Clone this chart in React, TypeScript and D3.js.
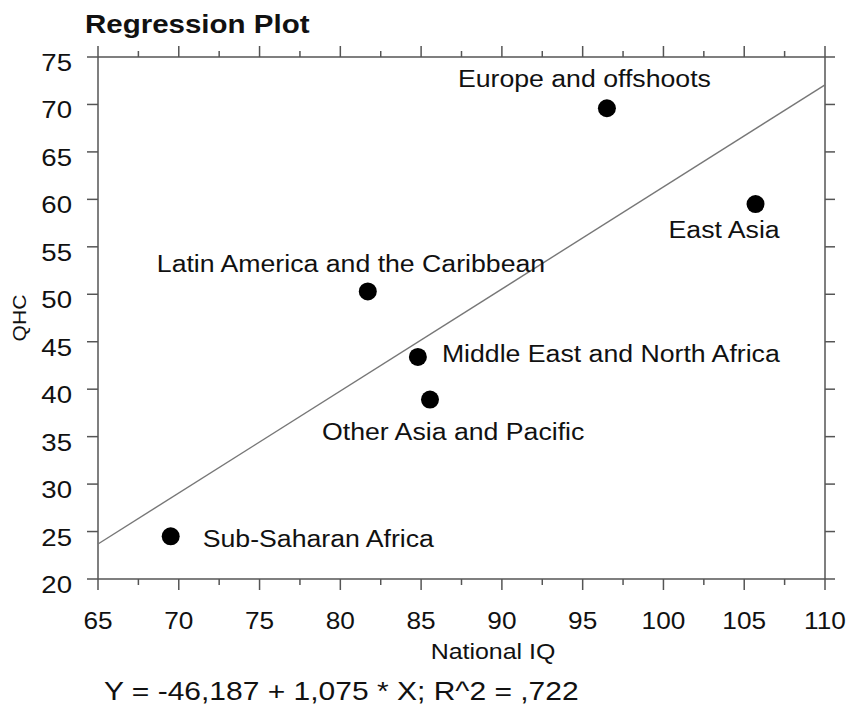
import React from "react";
import * as d3 from "d3";

const regions = [
  "Europe and offshoots",
  "East Asia",
  "Latin America and the Caribbean",
  "Middle East and North Africa",
  "Other Asia and Pacific",
  "Sub-Saharan Africa",
];
const nationalIQ = [96.5, 105.7, 81.7, 84.8, 85.55, 69.5];
const qhc = [69.6, 59.5, 50.3, 43.4, 38.9, 24.5];
const xTicks = [65, 70, 75, 80, 85, 90, 95, 100, 105, 110];
const yTicks = [20, 25, 30, 35, 40, 45, 50, 55, 60, 65, 70, 75];
const intercept = -46.187;
const slope = 1.075;
const equation = "Y = -46,187 + 1,075 * X; R^2 = ,722";

// label placement (layout, px offsets from point)
const labelOffsets: [number, number][] = [
  [-149, -21],
  [-87, 34],
  [-211, -19],
  [24, 5],
  [-108, 40],
  [32, 11],
];

const W = 853;
const H = 705;
const L = 98, R = 825, T = 57, B = 579;
const FONT = "'Liberation Sans', Arial, Helvetica, sans-serif";
const SX = 1.16;
const AX = "#555";

export default function App() {
  const x = d3.scaleLinear().domain([65, 110]).range([L, R]);
  const y = d3.scaleLinear().domain([20, 75]).range([B, T]);
  const minorX = d3.range(67.5, 110, 5);
  const lineGen = d3
    .line<number>()
    .x((d) => x(d))
    .y((d) => y(intercept + slope * d));

  const txt = (
    s: string,
    tx: number,
    ty: number,
    size: number,
    anchor: "start" | "middle" | "end" = "start",
    sx: number = SX
  ) => (
    <text
      key={s + tx + ty}
      transform={`translate(${tx},${ty}) scale(${sx},1)`}
      fontSize={size}
      fontFamily={FONT}
      textAnchor={anchor}
      fill="#111"
    >
      {s}
    </text>
  );

  return (
    <svg
      width={W}
      height={H}
      style={{ position: "absolute", left: 0, top: 0, background: "#fff" }}
    >
      <rect width={W} height={H} fill="#fff" />
      {/* title */}
      <text
        transform={`translate(85,33) scale(1.18,1)`}
        fontSize={25}
        fontWeight="bold"
        fontFamily={FONT}
        fill="#111"
      >
        Regression Plot
      </text>

      {/* frame */}
      <g stroke={AX} strokeWidth={1.5} fill="none">
        <line x1={L} x2={R} y1={B} y2={B} />
        <line x1={L} x2={R} y1={T} y2={T} />
        <line x1={L} x2={L} y1={T} y2={B} />
        <line x1={R} x2={R} y1={T} y2={B} />
        {xTicks.map((t) => (
          <g key={"xt" + t}>
            <line x1={x(t)} x2={x(t)} y1={B} y2={B + 11} />
            <line x1={x(t)} x2={x(t)} y1={T} y2={T - 11} />
          </g>
        ))}
        {minorX.map((t) => (
          <g key={"xm" + t}>
            <line x1={x(t)} x2={x(t)} y1={B} y2={B + 6} />
            <line x1={x(t)} x2={x(t)} y1={T} y2={T - 6} />
          </g>
        ))}
        {yTicks.map((t) => (
          <g key={"yt" + t}>
            <line x1={L - 11} x2={L} y1={y(t)} y2={y(t)} />
            <line x1={R} x2={R + 10} y1={y(t)} y2={y(t)} />
          </g>
        ))}
      </g>

      {/* tick labels */}
      {xTicks.map((t) => txt(String(t), x(t), 629, 23, "middle", 1.14))}
      {yTicks.map((t) => txt(String(t), 72, y(t) + 14, 23, "end", 1.2))}

      {/* regression line */}
      <path
        d={lineGen([65, 110]) || ""}
        stroke="#777"
        strokeWidth={1.4}
        fill="none"
      />

      {/* points */}
      {regions.map((r, i) => (
        <circle key={r} cx={x(nationalIQ[i])} cy={y(qhc[i])} r={9} fill="#000" />
      ))}
      {regions.map((r, i) =>
        txt(
          r,
          x(nationalIQ[i]) + labelOffsets[i][0],
          y(qhc[i]) + labelOffsets[i][1],
          23
        )
      )}

      {/* axis titles */}
      {txt("National IQ", 493, 659, 21.5, "middle")}
      <text
        transform={`translate(26,318) rotate(-90) scale(1.17,1)`}
        fontSize={18}
        fontFamily={FONT}
        textAnchor="middle"
        fill="#111"
      >
        QHC
      </text>
      <text
        transform={`translate(104,700) scale(1.2,1)`}
        fontSize={25}
        fontFamily={FONT}
        fill="#111"
      >
        {equation}
      </text>
    </svg>
  );
}
